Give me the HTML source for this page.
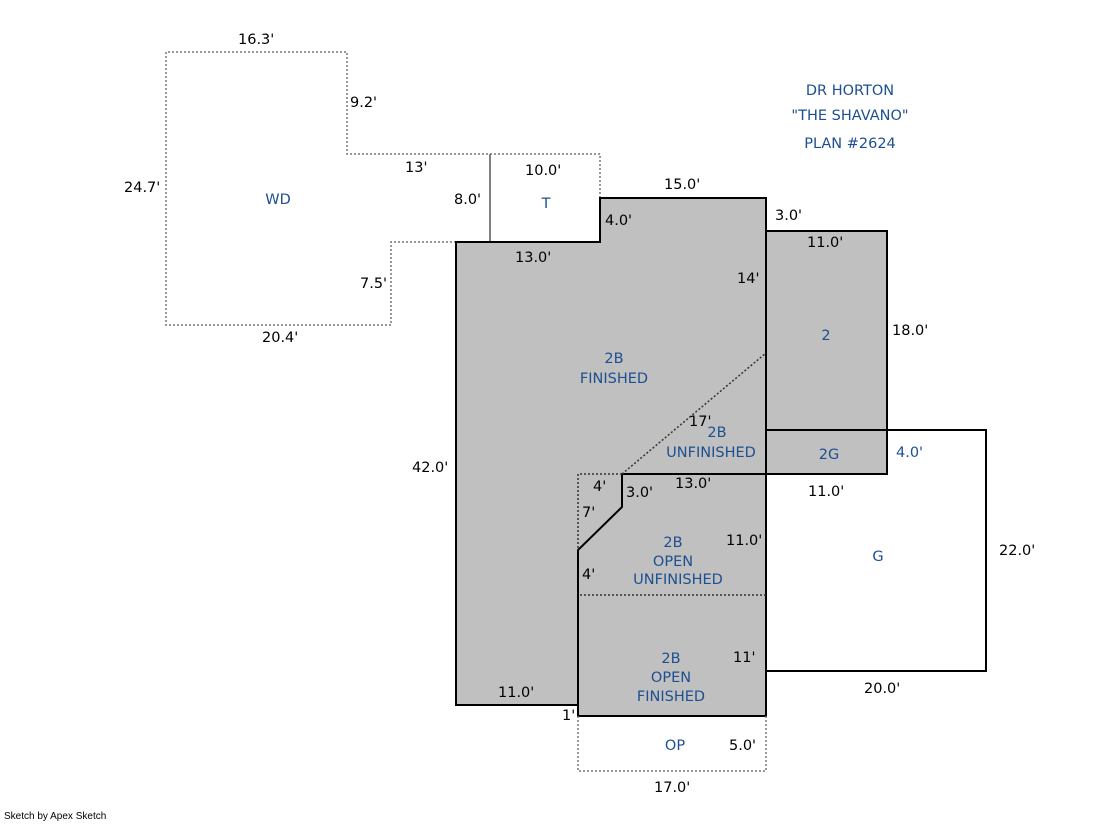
<!DOCTYPE html>
<html><head><style>
body{margin:0;background:#fff}
svg text{font-family:"DejaVu Sans","Liberation Sans",sans-serif;font-size:14.5px}
.k{fill:#000}.b{fill:#1d4f91}
</style></head><body>
<svg width="1119" height="821" viewBox="0 0 1119 821" xmlns="http://www.w3.org/2000/svg">
<polygon points="456,242 600,242 600,198 766,198 766,231 887,231 887,474 766,474 766,716 578,716 578,705 456,705" fill="#c0c0c0"/>
<polyline points="456,242 391,242 391,325 166,325 166,52 347,52 347,154 600,154 600,198" fill="none" stroke="#777" stroke-width="1.5" stroke-dasharray="2,2"/>
<line x1="490" y1="154" x2="490" y2="242" stroke="#555" stroke-width="1.5"/>
<polygon points="456,242 600,242 600,198 766,198 766,705 456,705" fill="none" stroke="#000" stroke-width="2"/>
<polygon points="766,231 887,231 887,474 766,474" fill="none" stroke="#000" stroke-width="2"/>
<line x1="766" y1="430" x2="887" y2="430" stroke="#000" stroke-width="2"/>
<polygon points="578,716 766,716 766,474 622,474 622,507 578,550" fill="#c0c0c0" stroke="#000" stroke-width="2"/>
<polyline points="887,430 986,430 986,671 766,671" fill="none" stroke="#000" stroke-width="2"/>
<g fill="none" stroke="#333" stroke-width="1.5" stroke-dasharray="2,2">
<polyline points="622,474 578,474 578,550"/>
<line x1="622" y1="474" x2="766" y2="353"/>
<line x1="580" y1="595" x2="766" y2="595"/>
<polyline points="578,716 578,771 766,771 766,716" stroke="#777"/>
</g>
<g class="k">
<text x="238" y="44">16.3'</text>
<text x="350" y="107">9.2'</text>
<text x="124" y="192">24.7'</text>
<text x="405" y="172">13'</text>
<text x="454" y="204">8.0'</text>
<text x="525" y="175">10.0'</text>
<text x="664" y="189">15.0'</text>
<text x="605" y="225">4.0'</text>
<text x="775" y="220">3.0'</text>
<text x="807" y="247">11.0'</text>
<text x="515" y="262">13.0'</text>
<text x="737" y="283">14'</text>
<text x="360" y="288">7.5'</text>
<text x="262" y="342">20.4'</text>
<text x="892" y="335">18.0'</text>
<text x="689" y="426">17'</text>
<text x="412" y="472">42.0'</text>
<text x="593" y="491">4'</text>
<text x="626" y="497">3.0'</text>
<text x="675" y="488">13.0'</text>
<text x="808" y="496">11.0'</text>
<text x="582" y="517">7'</text>
<text x="726" y="545">11.0'</text>
<text x="999" y="555">22.0'</text>
<text x="582" y="579">4'</text>
<text x="733" y="662">11'</text>
<text x="864" y="693">20.0'</text>
<text x="498" y="697">11.0'</text>
<text x="562" y="720">1'</text>
<text x="729" y="750">5.0'</text>
<text x="654" y="792">17.0'</text>
</g>
<g class="b" text-anchor="middle">
<text x="850" y="95">DR HORTON</text>
<text x="850" y="120">"THE SHAVANO"</text>
<text x="850" y="148">PLAN #2624</text>
<text x="278" y="204">WD</text>
<text x="546" y="208">T</text>
<text x="826" y="340">2</text>
<text x="614" y="363">2B</text>
<text x="614" y="383">FINISHED</text>
<text x="717" y="437">2B</text>
<text x="711" y="457">UNFINISHED</text>
<text x="829" y="459">2G</text>
<text x="878" y="561">G</text>
<text x="673" y="547">2B</text>
<text x="673" y="566">OPEN</text>
<text x="678" y="584">UNFINISHED</text>
<text x="671" y="663">2B</text>
<text x="671" y="682">OPEN</text>
<text x="671" y="701">FINISHED</text>
<text x="675" y="750">OP</text>
</g>
<text x="896" y="457" class="b">4.0'</text>
<text x="4" y="819" style="font-size:10px;font-family:'Liberation Sans',sans-serif" fill="#000">Sketch by Apex Sketch</text>
</svg>
</body></html>
